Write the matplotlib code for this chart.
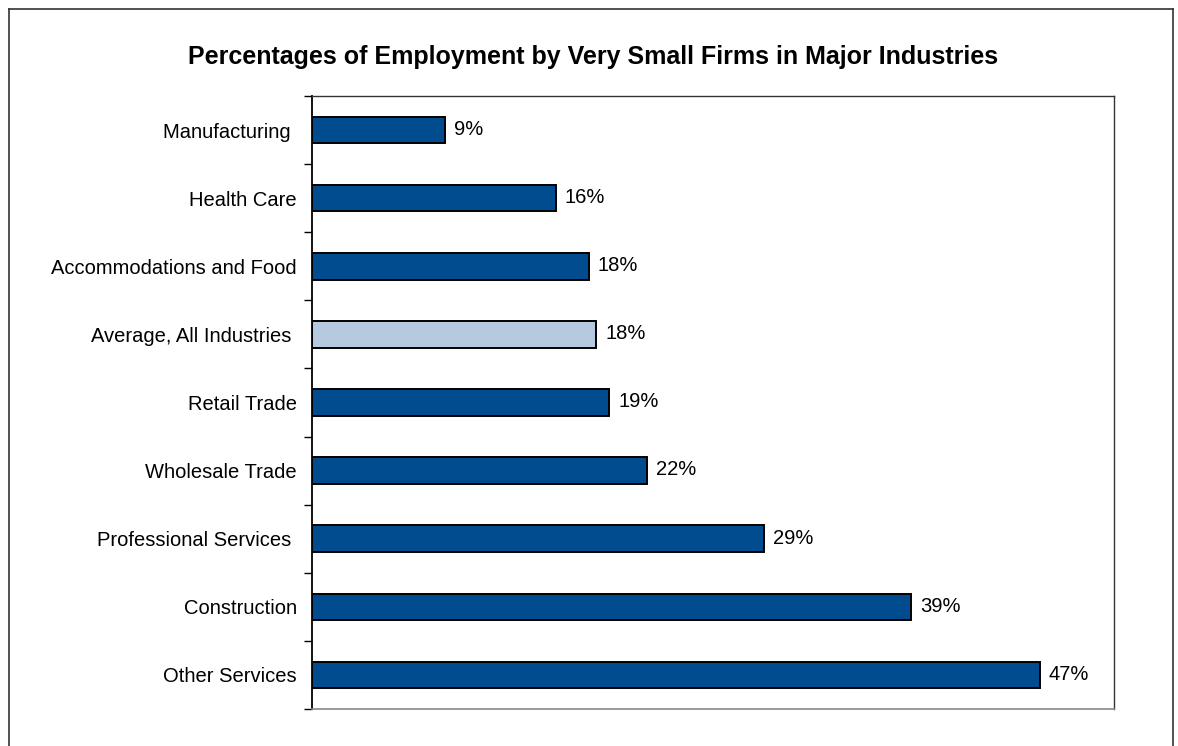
import matplotlib
matplotlib.use("Agg")
import matplotlib.pyplot as plt
from matplotlib.lines import Line2D
import numpy as np

plt.rcParams['font.family'] = ['Liberation Sans', 'DejaVu Sans']

categories = ["Manufacturing ", "Health Care", "Accommodations and Food",
              "Average, All Industries ", "Retail Trade", "Wholesale Trade",
              "Professional Services ", "Construction", "Other Services"]
values = [8.65, 15.8, 17.94, 18.44, 19.26, 21.69, 29.29, 38.87, 47.19]
labels = ["9%", "16%", "18%", "18%", "19%", "22%", "29%", "39%", "47%"]
highlight = "Average, All Industries "

W, H = 1178, 746
fig = plt.figure(figsize=(W / 100, H / 100), dpi=100)
ax = fig.add_axes([312 / W, 1 - 709 / H, (1114 - 312) / W, (709 - 96) / H])

dark = "#004C8E"
light = "#B6CADF"
colors = [light if c == highlight else dark for c in categories]
y = np.arange(len(categories))
ax.barh(y, values, height=0.39, color=colors, edgecolor="black", linewidth=1.4)

for yi, v, lab in zip(y, values, labels):
    ax.annotate(lab, (v, yi), xytext=(6.5, 0.5), textcoords="offset points",
                va="center", ha="left", fontsize=14.5)

ax.set_xlim(0, 52)
ax.set_ylim(len(categories) - 0.5, -0.5)
ax.set_xticks([])
ax.set_yticks(y)
ax.set_yticklabels(categories, fontsize=14.5)
ax.tick_params(axis="y", which="major", length=0, pad=11)
ax.set_yticks(np.arange(-0.5, len(categories), 1.0), minor=True)
ax.tick_params(axis="y", which="minor", length=6, width=1, color="black", direction="out")

ax.spines["left"].set_linewidth(1.3)
ax.spines["left"].set_color("black")
for s in ["top", "right"]:
    ax.spines[s].set_linewidth(1.0)
    ax.spines[s].set_color("#333333")
ax.spines["bottom"].set_linewidth(1.2)
ax.spines["bottom"].set_color("#888888")

fig.text(593 / W, 1 - 57 / H, "Percentages of Employment by Very Small Firms in Major Industries",
         ha="center", va="center", fontsize=18, fontweight="bold")

# outer border (bottom edge outside the image)
xl, xr, yt = 8.5 / W, 1173 / W, 1 - 8.5 / H
for xs, ys in [([xl, xl], [-0.01, yt]), ([xl, xr], [yt, yt]), ([xr, xr], [yt, -0.01])]:
    fig.add_artist(Line2D(xs, ys, transform=fig.transFigure, color="#333333", linewidth=1.2))

fig.savefig("out.png", dpi=100)
